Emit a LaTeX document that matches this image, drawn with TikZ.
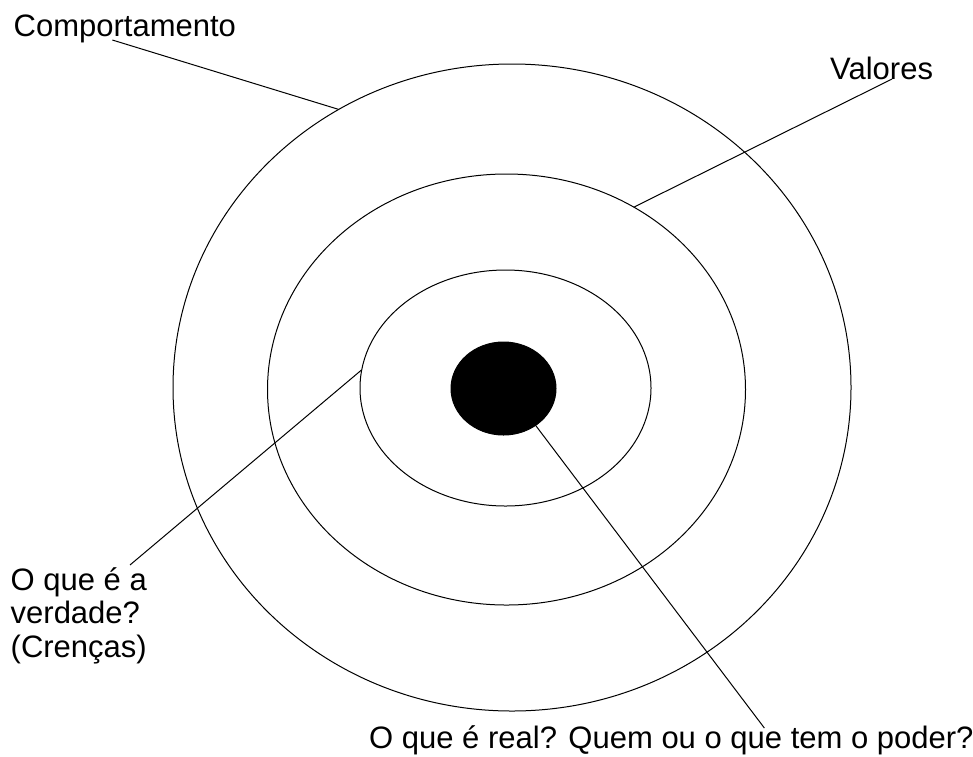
\documentclass[tikz,border=0pt]{standalone}
\usepackage{fontspec}
\setmainfont{Liberation Sans}
\usetikzlibrary{shapes.geometric}

\begin{document}
\begin{tikzpicture}[x=1pt,y=-1pt]
\useasboundingbox (0,0) rectangle (973,756);

\begin{scope}[every node/.style={ellipse,draw,line width=1pt,inner sep=0pt}]
\node[minimum width=678pt,minimum height=647pt] (outer) at (512,387.5) {};
\node[minimum width=478pt,minimum height=431pt] (middle) at (506.5,389.5) {};
\node[minimum width=291pt,minimum height=236pt] (inner) at (505.5,388) {};
\node[fill=black,minimum width=105pt,minimum height=93pt] (core) at (503.5,388.5) {};
\end{scope}

\begin{scope}[every node/.style={font=\fontsize{31}{33.5}\selectfont,inner sep=0pt}]
\node[anchor=base west] (comportamento) at (13.5,36.5) {Comportamento};
\node[anchor=base west] (valores) at (830,79) {Valores};
\node[anchor=base west,align=left] (crencas) at (10.5,657) {O que é a\\verdade?\\(Crenças)};
\node[anchor=base west] (real) at (369,748) {O que é real? Quem ou o que tem o poder?};
\end{scope}

\begin{scope}[every edge/.style={draw=black,line width=1pt}]
\path ([xshift=-12.5pt,yshift=-3.5pt]comportamento.base) edge (outer.122);
\path ([xshift=10.5pt]valores.base) edge (middle.55);
\path ([xshift=119.5pt,yshift=2pt]crencas.north west) edge (inner.173);
\path (core.311) edge ([xshift=93pt,yshift=20pt]real.base);
\end{scope}
\end{tikzpicture}
\end{document}
